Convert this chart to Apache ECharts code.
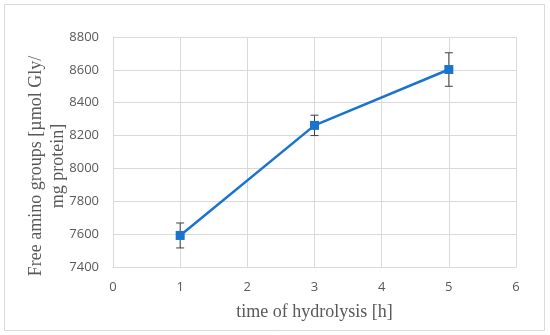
<!DOCTYPE html>
<html>
<head>
<meta charset="utf-8">
<script src="https://cdn.jsdelivr.net/npm/echarts@6/dist/echarts.min.js"></script>
<style>
  html, body { margin: 0; padding: 0; background: #fff; }
  #main { width: 550px; height: 335px; }
</style>
</head>
<body>
<div id="main"></div>
<script>
// hydrolysis time (h) and measured free amino groups
var hours = [1, 3, 5];
var aminoMean = [7592, 8262, 8602];
var aminoErr = [76, 62, 102];
var yTicks = [7400, 7600, 7800, 8000, 8200, 8400, 8600, 8800];

var lineData = hours.map(function (h, i) { return [h, aminoMean[i]]; });
var errData = hours.map(function (h, i) {
  return [h, aminoMean[i] - aminoErr[i], aminoMean[i] + aminoErr[i]];
});

var chart = echarts.init(document.getElementById('main'));

// error bars drawn with a custom series
function renderError(params, api) {
  var x = api.value(0);
  var lo = api.coord([x, api.value(1)]);
  var hi = api.coord([x, api.value(2)]);
  var cap = 4;
  var st = { stroke: '#404040', lineWidth: 1 };
  return {
    type: 'group',
    children: [
      { type: 'line', shape: { x1: lo[0], y1: lo[1], x2: hi[0], y2: hi[1] }, style: st },
      { type: 'line', shape: { x1: lo[0] - cap, y1: lo[1], x2: lo[0] + cap, y2: lo[1] }, style: st },
      { type: 'line', shape: { x1: hi[0] - cap, y1: hi[1], x2: hi[0] + cap, y2: hi[1] }, style: st }
    ]
  };
}

var option = {
  animation: false,
  graphic: [{
    type: 'rect',
    shape: { x: 4.5, y: 4.5, width: 540, height: 326 },
    style: { fill: 'none', stroke: '#d9d9d9', lineWidth: 1 },
    silent: true
  }],
  grid: { left: 113, right: 34, top: 37, bottom: 68 },
  xAxis: {
    type: 'value',
    min: 0,
    max: 6,
    interval: 1,
    name: 'time of hydrolysis [h]',
    nameLocation: 'middle',
    nameGap: 36,
    nameMoveOverlap: false,
    nameTextStyle: { fontFamily: 'Liberation Serif', fontSize: 18, color: '#595959' },
    axisLine: { lineStyle: { color: '#d9d9d9', width: 1 } },
    axisTick: { show: false },
    axisLabel: { fontFamily: 'Open Sans', fontSize: 13, color: '#595959', margin: 14 },
    splitLine: { show: true, lineStyle: { color: '#d9d9d9', width: 1 } }
  },
  yAxis: {
    type: 'value',
    min: yTicks[0],
    max: yTicks[yTicks.length - 1],
    interval: 200,
    name: 'Free amino groups [µmol Gly/\nmg protein]',
    nameLocation: 'middle',
    nameGap: 44,
    nameMoveOverlap: false,
    nameTextStyle: {
      fontFamily: 'Liberation Serif', fontSize: 18, color: '#595959',
      lineHeight: 22, padding: [0, 28, 0, 0]
    },
    axisLine: { show: true, lineStyle: { color: '#d9d9d9', width: 1 } },
    axisTick: { show: false },
    axisLabel: {
      fontFamily: 'Open Sans', fontSize: 13, color: '#595959', margin: 14,
      formatter: function (v) { return String(v); }
    },
    splitLine: { show: true, lineStyle: { color: '#d9d9d9', width: 1 } }
  },
  series: [
    {
      type: 'custom',
      renderItem: renderError,
      data: errData,
      encode: { x: 0, y: [1, 2] },
      z: 3
    },
    {
      type: 'line',
      data: lineData,
      symbol: 'rect',
      symbolSize: 9,
      lineStyle: { color: '#1a73d1', width: 2.5 },
      itemStyle: { color: '#1a73d1' },
      z: 4
    }
  ]
};

chart.setOption(option);
</script>
</body>
</html>
